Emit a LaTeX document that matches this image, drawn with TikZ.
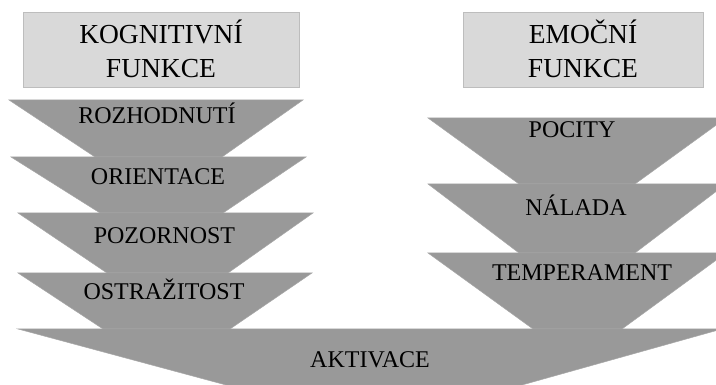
\documentclass[tikz,border=0pt]{standalone}
\usepackage{fontspec}
\setmainfont{Liberation Serif}
\definecolor{vrstva}{HTML}{999999}
\definecolor{hrana}{HTML}{A8A8A8}
\definecolor{ramecek}{HTML}{D9D9D9}
\definecolor{okraj}{HTML}{BDBDBD}
\begin{document}
\begin{tikzpicture}[x=1pt,y=-1pt]
			\useasboundingbox (0,0) rectangle (716,385);
			\clip (0,0) rectangle (716,385);
			\tikzset{hlava/.style={align=center,text=black,font=\fontsize{27.5}{34}\selectfont},
				popis/.style={anchor=base,text=black,font=\fontsize{24}{28}\selectfont}}

			% hlavicky
			\begin{scope}[fill=ramecek,draw=okraj,line width=.6pt]
			\filldraw (23,12) rectangle (299,87);
			\filldraw (463,12) rectangle (703,87);
			\end{scope}
			\node[hlava] (kog) at (161,48.5) {KOGNITIVNÍ\\FUNKCE};
			\node[hlava] (emo) at (583,48.5) {EMOČNÍ\\FUNKCE};

			\begin{scope}[fill=vrstva,draw=hrana,line width=.5pt]
			% kognitivni funkce
			\filldraw (9,100) -- (303,100) -- (222,157) -- (95,157) -- cycle;
			\filldraw (11,157) -- (306,157) -- (223,213) -- (100,213) -- cycle;
			\filldraw (18,213) -- (313,213) -- (228,273) -- (107,273) -- cycle;
			\filldraw (18,273) -- (312,273) -- (230,329) -- (103,329) -- cycle;
			% emocni funkce
			\filldraw (428,118) -- (726,118) -- (635,184) -- (519,184) -- cycle;
			\filldraw (428,184) -- (726,184) -- (635,253) -- (519,253) -- cycle;
			\filldraw (428,253) -- (726,253) -- (622,329) -- (533,329) -- cycle;
			% aktivace
			\filldraw (18,329) -- (722,329) -- (522,385) -- (226,385) -- cycle;
			\end{scope}

			\node[popis] (roz) at (157,124) {ROZHODNUTÍ};
			\node[popis] (ori) at (158,185) {ORIENTACE};
			\node[popis] (poz) at (164.5,244) {POZORNOST};
			\node[popis] (ost) at (164,300) {OSTRAŽITOST};
			\node[popis] (poc) at (572,138) {POCITY};
			\node[popis] (nal) at (576,216) {NÁLADA};
			\node[popis] (tem) at (582,280) {TEMPERAMENT};
			\node[popis] (akt) at (370,367) {AKTIVACE};
		    \end{tikzpicture}
\end{document}
